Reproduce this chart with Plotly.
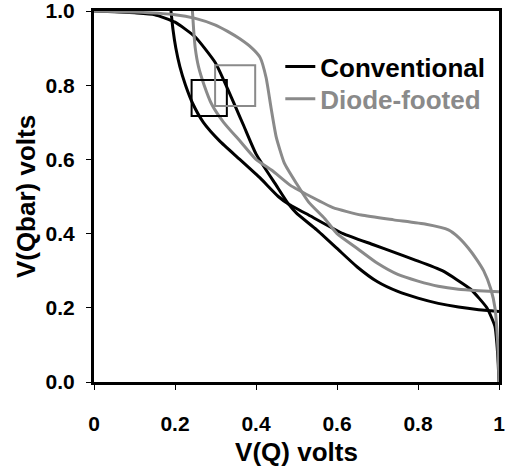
import plotly.graph_objects as go

# Conventional cell: transfer curve V(Qbar) vs V(Q); the mirrored curve swaps axes
conv_q = [0.0, 0.05, 0.10, 0.15, 0.20, 0.25, 0.30, 0.33, 0.35, 0.37, 0.40, 0.45, 0.48, 0.50,
          0.55, 0.60, 0.65, 0.70, 0.75, 0.80, 0.85, 0.90, 0.95, 0.98, 1.0]
conv_qbar = [1.0, 0.998, 0.995, 0.99, 0.97, 0.93, 0.86, 0.79, 0.74, 0.69, 0.615, 0.53, 0.48, 0.455,
             0.41, 0.36, 0.31, 0.27, 0.244, 0.226, 0.212, 0.202, 0.195, 0.192, 0.19]

# Diode-footed cell
diode_q = [0.0, 0.10, 0.20, 0.25, 0.30, 0.33, 0.36, 0.39, 0.41, 0.425, 0.437, 0.45, 0.47, 0.50,
           0.53, 0.57, 0.60, 0.65, 0.70, 0.75, 0.80, 0.85, 0.90, 0.95, 1.0]
diode_qbar = [1.0, 0.997, 0.99, 0.98, 0.962, 0.945, 0.925, 0.90, 0.875, 0.82, 0.74, 0.66, 0.59, 0.535,
              0.485, 0.44, 0.40, 0.36, 0.32, 0.29, 0.272, 0.258, 0.25, 0.246, 0.243]

# Squares marking the largest embedded boxes (x0, x1, y0, y1)
conv_box = [0.241, 0.328, 0.717, 0.814]
diode_box = [0.299, 0.398, 0.744, 0.854]

x_ticks = [0, 0.2, 0.4, 0.6, 0.8, 1]
x_ticktext = ["0", "0.2", "0.4", "0.6", "0.8", "1"]
y_ticks = [0, 0.2, 0.4, 0.6, 0.8, 1.0]
y_ticktext = ["0.0", "0.2", "0.4", "0.6", "0.8", "1.0"]

BLACK = "#000000"
GRAY = "#8a8a8a"
FONT = "Liberation Sans, Arial, sans-serif"

def curve_line(color):
    return dict(color=color, width=3, shape="spline", smoothing=0.5)

fig = go.Figure()
fig.add_trace(go.Scatter(x=conv_q, y=conv_qbar, mode="lines", name="Conventional",
                         legend="legend", line=curve_line(BLACK)))
fig.add_trace(go.Scatter(x=conv_qbar, y=conv_q, mode="lines", showlegend=False,
                         line=curve_line(BLACK)))
fig.add_trace(go.Scatter(x=diode_q, y=diode_qbar, mode="lines", name="Diode-footed",
                         legend="legend2", line=curve_line(GRAY)))
fig.add_trace(go.Scatter(x=diode_qbar, y=diode_q, mode="lines", showlegend=False,
                         line=curve_line(GRAY)))

for box, col in ((conv_box, BLACK), (diode_box, GRAY)):
    fig.add_shape(type="rect", xref="x", yref="y", x0=box[0], x1=box[1], y0=box[2], y1=box[3],
                  line=dict(color=col, width=2), fillcolor="rgba(0,0,0,0)")

axis_common = dict(showline=True, linewidth=3, linecolor=BLACK, mirror=True,
                   ticks="outside", ticklen=5, tickwidth=1, tickcolor=BLACK,
                   showgrid=False, zeroline=False,
                   ticklabeloverflow="allow",
                   tickfont=dict(family=FONT, size=21, color=BLACK, weight="bold"))

fig.update_xaxes(range=[0, 1], tickvals=x_ticks, ticktext=x_ticktext, ticklabelstandoff=16,
                 automargin=False,
                 title=dict(text="V(Q) volts", font=dict(family=FONT, size=26, color=BLACK, weight="bold")),
                 **axis_common)
fig.update_yaxes(range=[0, 1], tickvals=y_ticks, ticktext=y_ticktext, ticklabelstandoff=7,
                 automargin=True,
                 title=dict(text="V(Qbar) volts", standoff=3,
                            font=dict(family=FONT, size=26, color=BLACK, weight="bold")),
                 **axis_common)

legend_common = dict(xanchor="left", yanchor="middle", bgcolor="rgba(0,0,0,0)", borderwidth=0)
fig.update_layout(
    width=506, height=467,
    margin=dict(l=94, r=7, t=11, b=85, autoexpand=False),
    paper_bgcolor="white", plot_bgcolor="white",
    showlegend=True,
    legend=dict(x=0.46, y=0.85, font=dict(family=FONT, size=26, color=BLACK, weight="bold"),
                **legend_common),
    legend2=dict(x=0.46, y=0.763, font=dict(family=FONT, size=26, color=GRAY, weight="bold"),
                 **legend_common),
)

fig.write_html("out.html", config={"displayModeBar": False},
               post_script="document.body.style.margin='0px';")
